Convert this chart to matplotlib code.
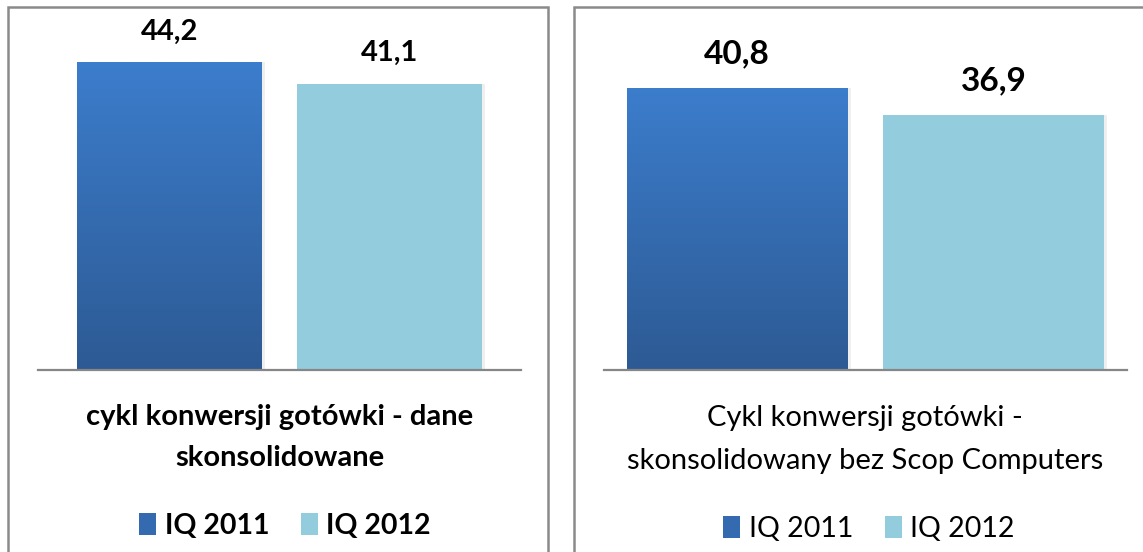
import numpy as np
import matplotlib.pyplot as plt
from matplotlib.patches import Rectangle, Patch
from matplotlib.colors import LinearSegmentedColormap
from matplotlib.transforms import ScaledTranslation

plt.rcParams['font.family'] = ['Lato', 'DejaVu Sans']

# data
series = ["IQ 2011", "IQ 2012"]
left_values = [44.2, 41.1]
right_values = [40.8, 36.9]
left_title = ["cykl konwersji gotówki - dane", "skonsolidowane"]
right_title = ["Cykl konwersji gotówki -", "skonsolidowany bez Scop Computers"]

TOP_BLUE = "#3c7dcc"
BOTTOM_BLUE = "#2d5a94"
MID_BLUE = "#346ab0"
LIGHT = "#93cddd"
BORDER = "#8a8a8a"

W, H = 1143, 552


def fx(px):
    return px / W


def fy(py):
    return 1 - py / H


def fmt(v):
    return f"{v:.1f}".replace(".", ",")


blue_cmap = LinearSegmentedColormap.from_list("blues", [TOP_BLUE, BOTTOM_BLUE])


def draw_panel(ax, values, width, offset, ymax, label_size, label_pad):
    xs = [-offset, offset]
    # faint shadow to the right of the bars
    shadow = ax.transData + ScaledTranslation(3 / 100, 0, ax.figure.dpi_scale_trans)
    ax.bar(xs, values, width, color="#808080", alpha=0.12, edgecolor="none",
           transform=shadow, zorder=1)
    bars = ax.bar(xs, values, width, color=["white", LIGHT], edgecolor="none", zorder=2)
    # gradient fill on the first series
    b = bars[0]
    grad = np.linspace(0, 1, 256).reshape(-1, 1)
    im = ax.imshow(grad, extent=[b.get_x(), b.get_x() + b.get_width(), 0, b.get_height()],
                   cmap=blue_cmap, aspect="auto", zorder=3)
    im.set_clip_path(b)
    ax.set_xlim(-0.5, 0.5)
    ax.set_ylim(0, ymax)
    for x, v in zip(xs, values):
        ax.annotate(fmt(v), (x, v), xytext=(0, label_pad), textcoords="offset pixels",
                    ha="center", va="center", fontsize=label_size, fontweight="bold")
    for s in ["top", "left", "right"]:
        ax.spines[s].set_visible(False)
    ax.spines["bottom"].set_color("#868686")
    ax.spines["bottom"].set_linewidth(1.6)
    ax.spines["bottom"].set_zorder(4)
    ax.set_xticks([])
    ax.set_yticks([])
    ax.patch.set_alpha(0)


fig = plt.figure(figsize=(W / 100, H / 100), dpi=100)

# panel borders
fig.add_artist(Rectangle((fx(8), fy(600)), fx(548 - 8), (600 - 6.5) / H,
                         fill=False, edgecolor=BORDER, lw=1.8))
fig.add_artist(Rectangle((fx(574), fy(600)), fx(1200 - 574), (600 - 6.5) / H,
                         fill=False, edgecolor=BORDER, lw=1.8))

ax1 = fig.add_axes([fx(38), fy(370), fx(483), 348 / H])
draw_panel(ax1, left_values, 0.383, 0.2275, 50, 21, 31)

ax2 = fig.add_axes([fx(604), fy(370), fx(523), 348 / H])
draw_panel(ax2, right_values, 0.4225, 0.2455, 50.3, 24, 34)

# titles under the charts
for line, y in zip(left_title, [417, 458]):
    fig.text(fx(280), fy(y), line, ha="center", va="center", fontsize=21, fontweight="bold")
for line, y in zip(right_title, [418, 461]):
    fig.text(fx(865), fy(y), line, ha="center", va="center", fontsize=21)

handles = [Patch(facecolor=MID_BLUE), Patch(facecolor=LIGHT)]
fig.legend(handles, series, loc="center", bbox_to_anchor=(fx(285), fy(526)), ncol=2,
           frameon=False, prop=dict(weight="bold", size=20.5), handlelength=0.6,
           handleheight=0.8, handletextpad=0.3, columnspacing=1.1)
fig.legend(handles, series, loc="center", bbox_to_anchor=(fx(869), fy(529)), ncol=2,
           frameon=False, prop=dict(size=20.5), handlelength=0.6,
           handleheight=0.8, handletextpad=0.3, columnspacing=1.1)

fig.savefig("out.png", dpi=100)
